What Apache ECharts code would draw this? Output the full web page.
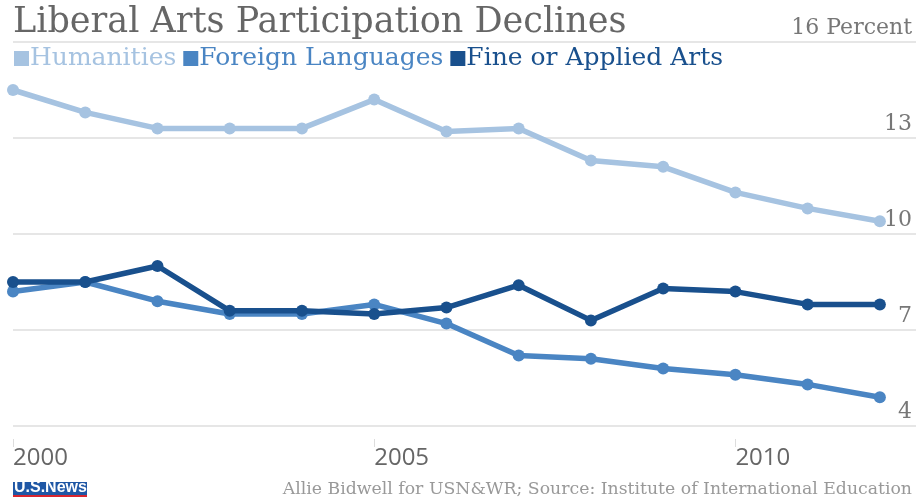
<!DOCTYPE html>
<html>
<head>
<meta charset="utf-8">
<script src="https://cdn.jsdelivr.net/npm/echarts@6/dist/echarts.min.js"></script>
<style>
html,body{margin:0;padding:0;background:#fff;}
#chart{width:916px;height:503px;}
</style>
</head>
<body>
<div id="chart"></div>
<script>
var years = [2000,2001,2002,2003,2004,2005,2006,2007,2008,2009,2010,2011,2012];
var humanities = [14.5,13.8,13.3,13.3,13.3,14.2,13.2,13.3,12.3,12.1,11.3,10.8,10.4];
var foreignLanguages = [8.2,8.5,7.9,7.5,7.5,7.8,7.2,6.2,6.1,5.8,5.6,5.3,4.9];
var fineArts = [8.5,8.5,9.0,7.6,7.6,7.5,7.7,8.4,7.3,8.3,8.2,7.8,7.8];
var seriesNames = ['Humanities','Foreign Languages','Fine or Applied Arts'];
var seriesColors = ['#a6c3e1','#4a85c3','#19508d'];
var yTicks = [4,7,10,13,16];
var xTickLabels = [2000,2005,2010];

var serif = '"DejaVu Serif", serif';
var sans = '"Open Sans", sans-serif';

function pairs(vals){ return years.map(function(y,i){ return [y, vals[i]]; }); }
var allVals = [humanities, foreignLanguages, fineArts];

var chart = echarts.init(document.getElementById('chart'));
chart.setOption({
  animation:false,
  backgroundColor:'#fff',
  title:{
    text:'Liberal Arts Participation Declines',
    left:8, top:0,
    textStyle:{fontFamily:serif, fontSize:35, fontWeight:'normal', color:'#666'}
  },
  legend:{
    left:9, top:41,
    icon:'rect', itemWidth:15, itemHeight:15, itemGap:7,
    data: seriesNames.map(function(n,i){ return {name:n, textStyle:{color:seriesColors[i]}}; }),
    textStyle:{fontFamily:serif, fontSize:25, padding:[0,0,0,-4]}
  },
  grid:{left:13, right:0, top:42, bottom:77, containLabel:false},
  xAxis:{
    type:'value', min:2000, max:2012.5, interval:5,
    offset:13,
    axisLine:{show:false},
    axisTick:{show:true, length:8, lineStyle:{color:'#ddd', width:1}},
    splitLine:{show:false},
    axisLabel:{
      show:true, align:'left', margin:7,
      fontFamily:sans, fontSize:24, color:'#666',
      showMaxLabel:false,
      formatter:function(v){ return xTickLabels.indexOf(v) >= 0 ? String(v) : ''; }
    }
  },
  yAxis:{
    type:'value', min:4, max:16, interval:3, position:'right',
    axisLine:{show:false}, axisTick:{show:false},
    splitLine:{show:true, lineStyle:{color:'#e6e6e6', width:2}},
    axisLabel:{
      inside:true, margin:4, verticalAlign:'bottom', padding:[0,0,3,0],
      fontFamily:serif, fontSize:22, color:'#777',
      formatter:function(v){ return v === yTicks[yTicks.length-1] ? v + ' Percent' : (yTicks.indexOf(v)>=0 ? String(v) : ''); }
    }
  },
  series: seriesNames.map(function(n,i){
    return {
      name:n, type:'line', data:pairs(allVals[i]),
      symbol:'circle', symbolSize:12,
      lineStyle:{width:5.5, color:seriesColors[i]},
      itemStyle:{color:seriesColors[i]},
      z: 2+i
    };
  }),
  graphic:[
    {type:'rect', left:13, top:482, shape:{width:74, height:15}, style:{fill:'#1f57a5'}},
    {type:'rect', left:13, top:495, shape:{width:74, height:2}, style:{fill:'#d8262e'}},
    {type:'text', left:14, top:480, style:{text:'U.S.News', fill:'#fff', font:'bold 16px "Liberation Sans", Arial, sans-serif'}},
    {type:'text', right:4, top:481, style:{text:'Allie Bidwell for USN&WR; Source: Institute of International Education', fill:'#999', font:'17.3px "DejaVu Serif", serif'}}
  ]
});
</script>
</body>
</html>
